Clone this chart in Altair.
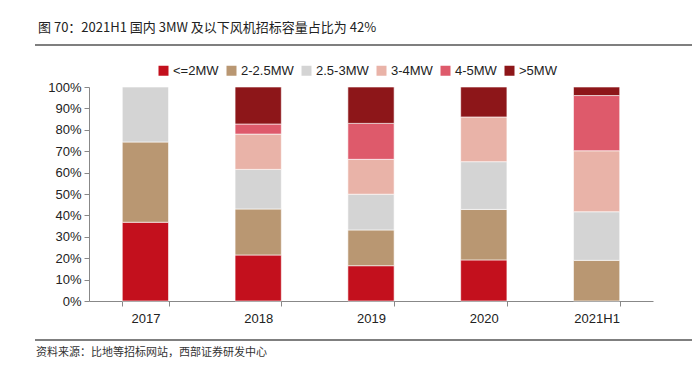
import altair as alt
import pandas as pd

years = ["2017", "2018", "2019", "2020", "2021H1"]
types = ["<=2MW", "2-2.5MW", "2.5-3MW", "3-4MW", "4-5MW", ">5MW"]
colors = ["#C3101D", "#B99772", "#D4D4D4", "#E9B3A8", "#DE5A6B", "#8D1619"]

le_2mw = [36.8, 21.5, 16.5, 19.2, 0.0]
mw_2_25 = [37.5, 21.5, 16.7, 23.6, 19.0]
mw_25_3 = [25.7, 18.5, 16.7, 22.3, 22.7]
mw_3_4 = [0.0, 16.5, 16.3, 20.9, 28.5]
mw_4_5 = [0.0, 4.7, 16.8, 0.0, 25.8]
gt_5mw = [0.0, 17.3, 17.0, 14.0, 4.0]

title_text = "图 70：2021H1 国内 3MW 及以下风机招标容量占比为 42%"
source_text = "资料来源：比地等招标网站，西部证券研发中心"

series = [le_2mw, mw_2_25, mw_25_3, mw_3_4, mw_4_5, gt_5mw]
rows = []
for i, (t, vals) in enumerate(zip(types, series)):
    for y, v in zip(years, vals):
        if v > 0:
            rows.append({"year": y, "type": t, "idx": i, "value": v})
df = pd.DataFrame(rows)

bars = alt.Chart(df).mark_bar(stroke="white", strokeWidth=0.6).encode(
    x=alt.X("year:N", sort=years, title=None,
            scale=alt.Scale(paddingInner=0.59, paddingOuter=0.295),
            axis=alt.Axis(labelAngle=0, tickBand="extent", tickSize=5,
                          labelPadding=6)),
    y=alt.Y("value:Q", stack="normalize", title=None,
            scale=alt.Scale(domain=[0, 1]),
            axis=alt.Axis(format=".0%", values=[i / 10 for i in range(11)],
                          grid=False, tickSize=5, labelPadding=3)),
    color=alt.Color("type:N", scale=alt.Scale(domain=types, range=colors),
                    legend=alt.Legend(title=None, orient="none", direction="horizontal",
                                      legendX=68, legendY=-23, symbolType="square",
                                      symbolSize=100, symbolStrokeWidth=0,
                                      labelFontSize=13, labelFont="Liberation Sans",
                                      labelColor="#222", columnPadding=6,
                                      symbolOffset=0, labelOffset=3)),
    order=alt.Order("idx:Q", sort="ascending"),
)

title = alt.Chart(pd.DataFrame({"t": [title_text]})).mark_text(
    align="left", baseline="middle", fontSize=13, font="Noto Sans CJK SC", color="#222"
).encode(text="t:N", x=alt.value(-51), y=alt.value(-59))

source = alt.Chart(pd.DataFrame({"t": [source_text]})).mark_text(
    align="left", baseline="middle", fontSize=11, font="Noto Sans CJK SC", color="#333"
).encode(text="t:N", x=alt.value(-53), y=alt.value(266))

top_line = alt.Chart(pd.DataFrame({"a": [0]})).mark_rule(color="#555", strokeWidth=1.5).encode(
    x=alt.value(-54), x2=alt.value(611), y=alt.value(-42))
bottom_line = alt.Chart(pd.DataFrame({"a": [0]})).mark_rule(color="#555", strokeWidth=1.5).encode(
    x=alt.value(-54), x2=alt.value(611), y=alt.value(253))

chart = alt.layer(bars, title, source, top_line, bottom_line).properties(
    width=564, height=214,
    autosize=alt.AutoSizeParams(type="none"),
    padding={"left": 81, "top": 79, "right": 39, "bottom": 58},
).configure_view(stroke=None).configure_axis(
    domainColor="#888", tickColor="#888", labelColor="#222",
    labelFont="Liberation Sans", labelFontSize=13,
)

chart.save("out.html", embed_options={"renderer": "svg", "actions": False})
